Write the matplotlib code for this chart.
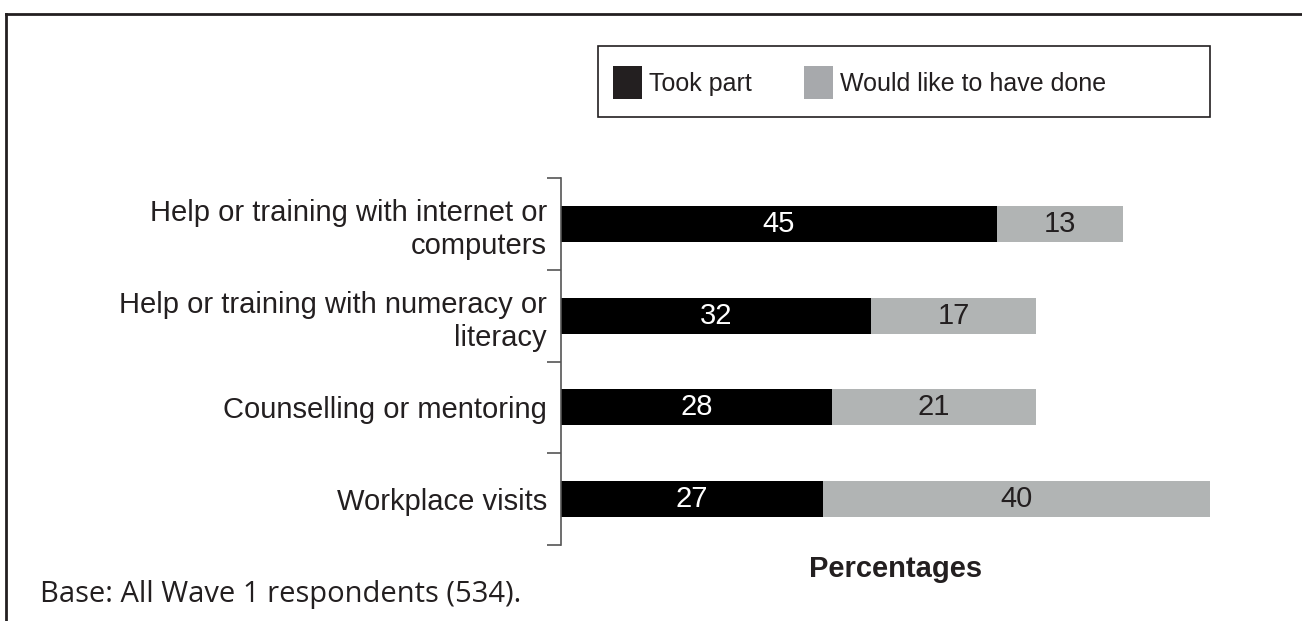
import matplotlib.pyplot as plt
from matplotlib.patches import Patch, Rectangle
from matplotlib.lines import Line2D

plt.rcParams['font.family'] = ['Liberation Sans', 'DejaVu Sans']

categories = [
    'Help or training with internet or\ncomputers',
    'Help or training with numeracy or\nliteracy',
    'Counselling or mentoring',
    'Workplace visits',
]
took_part = [45, 32, 28, 27]
would_like = [13, 17, 21, 40]
series_names = ['Took part', 'Would like to have done']

W, H = 1302, 621
fig = plt.figure(figsize=(W / 100, H / 100), dpi=100)

# axes box in pixel terms
left, right, top, bottom = 561, 561 + 70 * 9.69, 178, 545
ax = fig.add_axes([left / W, 1 - bottom / H, (right - left) / W, (bottom - top) / H])

dark = '#231f20'
bar_black = '#000000'
bar_grey = '#b1b4b4'
fs = 21

y = list(range(len(categories)))
ax.barh(y, took_part, height=0.39, color=bar_black)
ax.barh(y, would_like, left=took_part, height=0.39, color=bar_grey)

for i in y:
    ax.text(took_part[i] / 2, i, str(took_part[i]), ha='center', va='center',
            color='white', fontsize=fs)
    ax.text(took_part[i] + would_like[i] / 2, i, str(would_like[i]), ha='center',
            va='center', color=dark, fontsize=fs)

ax.set_xlim(0, 70)
ax.set_ylim(3.5, -0.5)

# boundary ticks on the axis line, labels sit between them
ax.set_yticks([-0.5, 0.5, 1.5, 2.5, 3.5])
ax.set_yticklabels([])
ax.tick_params(axis='y', which='major', length=10, width=1.2, color='#555555')
ax.set_yticks(y, minor=True)
ax.set_yticklabels(categories, minor=True, fontsize=fs, color=dark,
                   linespacing=1.25)
ax.tick_params(axis='y', which='minor', length=0, pad=10)

ax.set_xticks([])
for side in ['top', 'right', 'bottom']:
    ax.spines[side].set_visible(False)
ax.spines['left'].set_color('#555555')
ax.spines['left'].set_linewidth(1.2)

fig.text(896 / W, 1 - 577 / H, 'Percentages', ha='center', va='baseline',
         fontsize=fs, fontweight='bold', color=dark)
fig.text(40 / W, 1 - 602 / H, 'Base: All Wave 1 respondents (534).',
         ha='left', va='baseline', fontsize=21, color=dark,
         family=['Open Sans', 'DejaVu Sans'])

# legend box
fig.add_artist(Rectangle((598 / W, 1 - 117 / H), 612 / W, 71 / H,
                         transform=fig.transFigure, facecolor='none',
                         edgecolor=dark, linewidth=1.2))
handles = [Patch(facecolor=dark, edgecolor='none'),
           Patch(facecolor='#a7a9ac', edgecolor='none')]
leg = fig.legend(handles, series_names, ncol=2, loc='center left',
                 bbox_to_anchor=(613 / W, 1 - 82.5 / H),
                 borderaxespad=0, borderpad=0, fontsize=18, frameon=False,
                 handlelength=1.16, handleheight=1.7, handletextpad=0.28,
                 columnspacing=2.1)
for t in leg.get_texts():
    t.set_color(dark)

# outer frame: top and left edges only
fig.add_artist(Line2D([6 / W, 1], [1 - 14 / H, 1 - 14 / H], color=dark, lw=2,
                      transform=fig.transFigure))
fig.add_artist(Line2D([6 / W, 6 / W], [1 - 14 / H, 0], color=dark, lw=2,
                      transform=fig.transFigure))

fig.savefig('out.png', dpi=100)
